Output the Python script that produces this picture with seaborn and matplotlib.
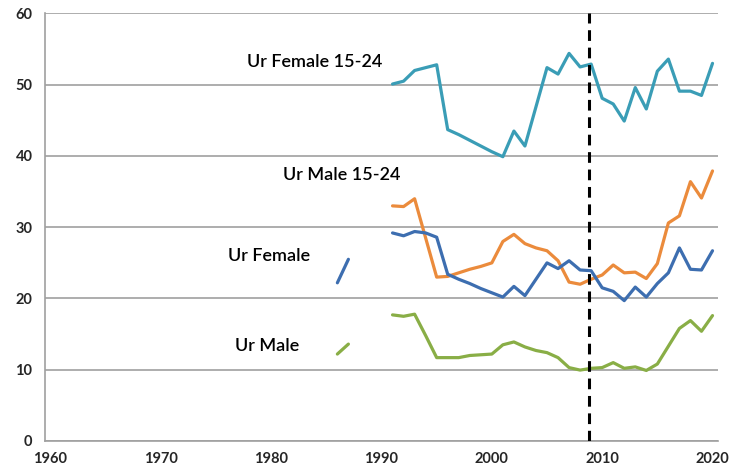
import numpy as np
import pandas as pd
import seaborn as sns
import matplotlib.pyplot as plt

# Données (taux de chômage urbain)
years = list(range(1986, 2021))
nan = np.nan

ur_female_1524 = [nan] * 5 + [
    50.1, 50.5, 52.0, 52.4, 52.8, 43.7, 43.0, 42.2, 41.4, 40.6,
    39.9, 43.5, 41.4, 46.9, 52.4, 51.5, 54.4, 52.5, 52.9, 48.1,
    47.3, 44.9, 49.6, 46.6, 51.9, 53.6, 49.1, 49.1, 48.5, 53.0]

ur_male_1524 = [nan] * 5 + [
    33.0, 32.9, 34.0, 28.5, 23.0, 23.1, 23.6, 24.1, 24.5, 25.0,
    28.0, 29.0, 27.7, 27.1, 26.7, 25.3, 22.3, 22.0, 22.7, 23.3,
    24.7, 23.6, 23.7, 22.8, 24.9, 30.6, 31.6, 36.4, 34.1, 37.9]

ur_female = [22.2, 25.5, nan, nan, nan,
    29.2, 28.8, 29.4, 29.2, 28.6, 23.4, 22.7, 22.1, 21.4, 20.8,
    20.2, 21.7, 20.4, 22.7, 25.0, 24.2, 25.3, 24.0, 23.9, 21.5,
    21.0, 19.7, 21.6, 20.2, 22.1, 23.6, 27.1, 24.1, 24.0, 26.7]

ur_male = [12.2, 13.6, nan, nan, nan,
    17.7, 17.5, 17.8, 14.8, 11.7, 11.7, 11.7, 12.0, 12.1, 12.2,
    13.5, 13.9, 13.2, 12.7, 12.4, 11.7, 10.3, 9.95, 10.2, 10.3,
    11.0, 10.2, 10.4, 9.9, 10.8, 13.3, 15.8, 16.9, 15.4, 17.6]

break_year = 2008.8

series = {
    "Ur Female 15-24": ur_female_1524,
    "Ur Male 15-24": ur_male_1524,
    "Ur Female": ur_female,
    "Ur Male": ur_male,
}
colors = {
    "Ur Female 15-24": "#3A9DB6",
    "Ur Male 15-24": "#EB8B3C",
    "Ur Female": "#3D6EB0",
    "Ur Male": "#89AE46",
}
label_pos = {
    "Ur Female 15-24": (1983.9, 53.2),
    "Ur Male 15-24": (1986.4, 37.3),
    "Ur Female": (1979.8, 25.9),
    "Ur Male": (1979.6, 13.3),
}

sns.set_style("white")
plt.rcParams['font.family'] = ['Lato', 'DejaVu Sans']

fig = plt.figure(figsize=(7.3, 4.75), dpi=100)
ax = fig.add_axes([0.0616, 0.0716, 0.922, 0.90])

df = pd.DataFrame({"year": years, **series})
for name, color in colors.items():
    s = df[["year", name]].copy()
    s["seg"] = s[name].isna().cumsum()
    s = s.dropna()
    for _, part in s.groupby("seg"):
        sns.lineplot(data=part, x="year", y=name, color=color, linewidth=2.3,
                     ax=ax, legend=False)
    x, y = label_pos[name]
    ax.text(x, y, name, fontsize=13, fontweight='semibold', ha='center',
            va='center', color='black')

ax.axvline(break_year, color='black', linestyle=(0, (3.5, 2.2)), linewidth=2.2, zorder=5)

ax.set_xlim(1959.5, 2020.5)
ax.set_ylim(0, 60)
ax.set_yticks(range(0, 61, 10))
ax.set_xticks(range(1960, 2021, 10))
ax.set_xticks(np.arange(1959.5, 2021, 1), minor=True)
ax.yaxis.grid(True, color='#A0A0A0', linewidth=1.2)
ax.set_axisbelow(True)
ax.set_xlabel("")
ax.set_ylabel("")

for side in ['top', 'right']:
    ax.spines[side].set_visible(False)
for side in ['left', 'bottom']:
    ax.spines[side].set_color('#A0A0A0')
    ax.spines[side].set_linewidth(1.2)

ax.tick_params(axis='x', which='major', length=0, pad=8)
ax.tick_params(axis='x', which='minor', length=5, color='#A0A0A0', width=1, direction='out')
ax.tick_params(axis='y', length=5, color='#A0A0A0', width=1, direction='out', pad=4)
for lab in ax.get_xticklabels() + ax.get_yticklabels():
    lab.set_fontweight('bold')
    lab.set_fontsize(10.5)

plt.savefig("out.png", dpi=100)
